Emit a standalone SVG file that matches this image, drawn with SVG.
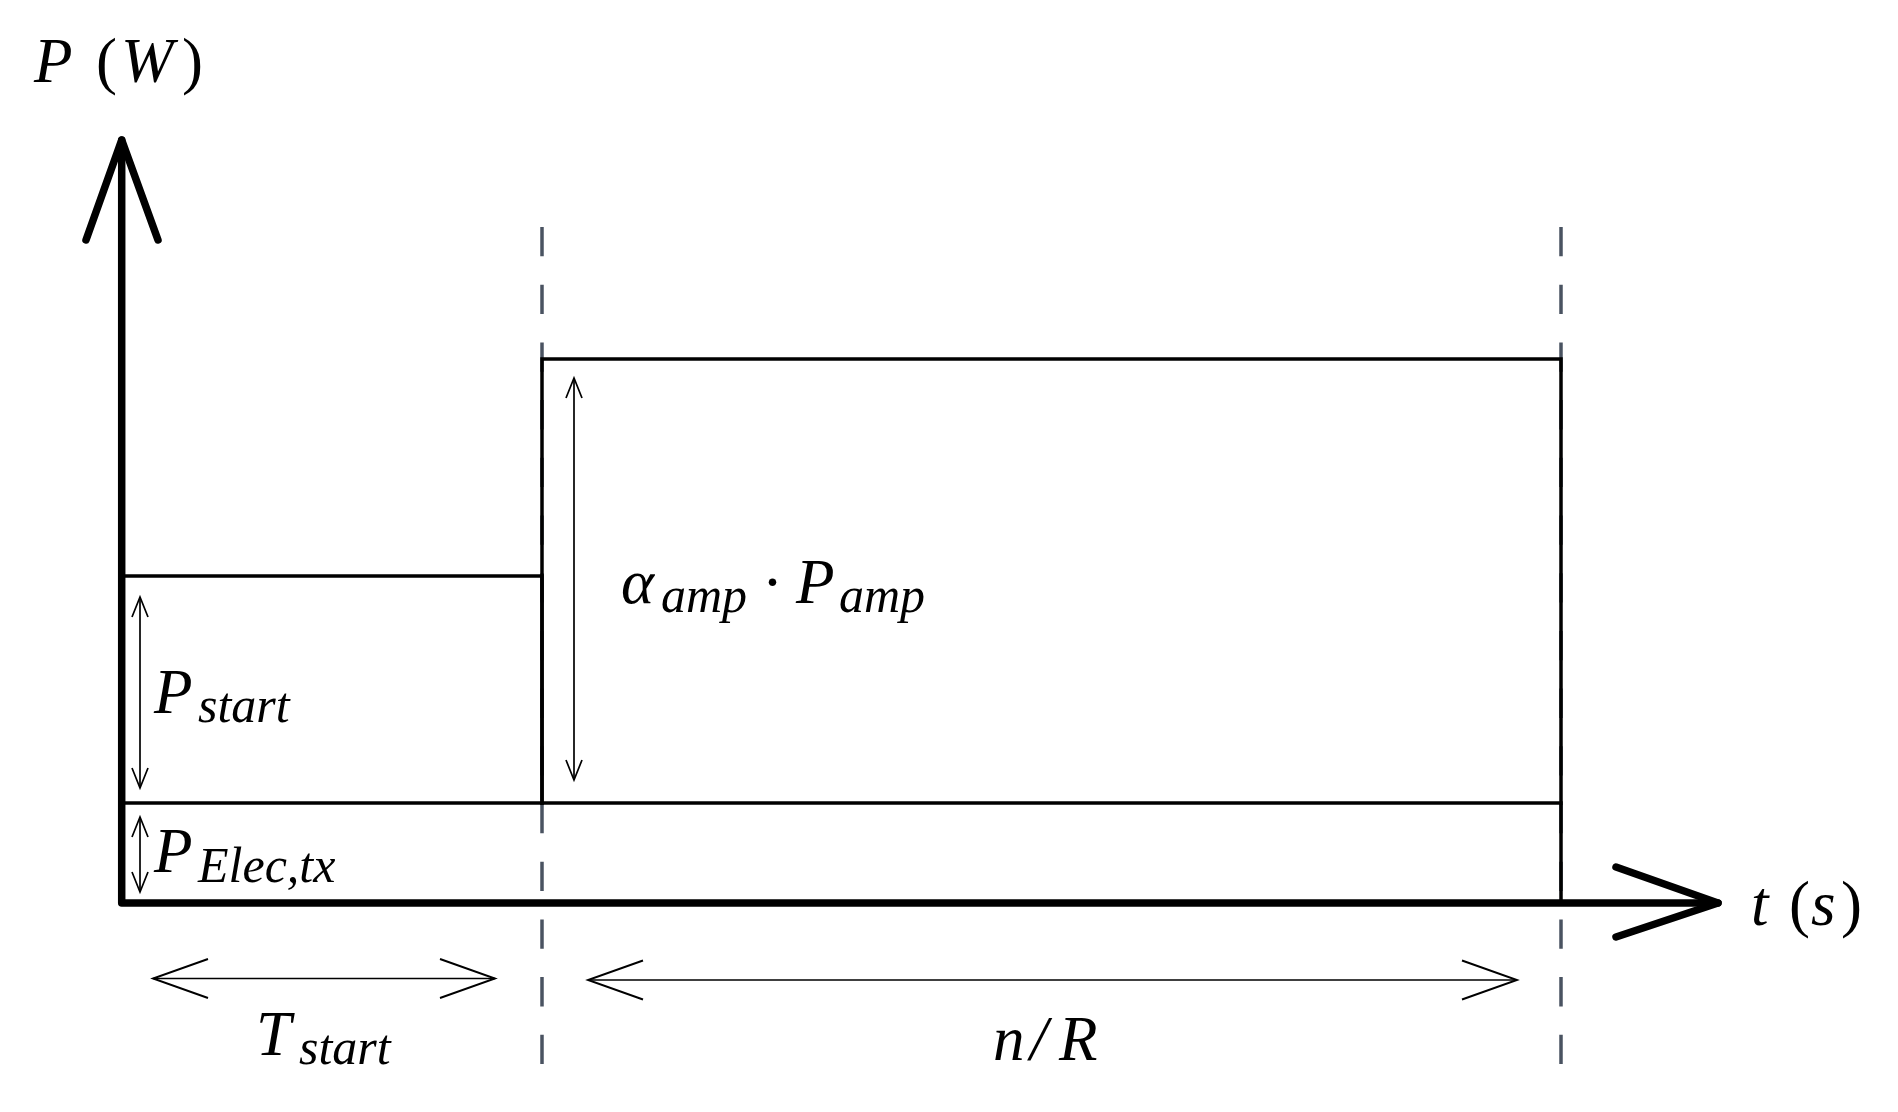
<svg xmlns="http://www.w3.org/2000/svg" width="1898" height="1112" viewBox="0 0 1898 1112">
<style>
.ax{fill:none;stroke:#000;stroke-width:7.5;stroke-linecap:round;stroke-linejoin:round}
.bl{fill:none;stroke:#000;stroke-width:3.5;stroke-linecap:square}
.gd{fill:none;stroke:#4a5361;stroke-width:3.5;stroke-dasharray:29.3 28.4}
.dim{fill:none;stroke:#000;stroke-width:1.7}
.dv{marker-start:url(#vs);marker-end:url(#vs)}
.dh{marker-start:url(#vl);marker-end:url(#vl)}
text{font-family:"Liberation Serif","Times New Roman",serif;font-size:63px;fill:#000}
.i{font-style:italic}
.s{font-style:italic;font-size:50px}
</style>
<defs>
<marker id="vs" markerUnits="userSpaceOnUse" viewBox="-23 -10 25 20" refX="0" refY="0" markerWidth="25" markerHeight="20" orient="auto-start-reverse" overflow="visible">
<path d="M-20,-8 L0,0 L-20,8" fill="none" stroke="#000" stroke-width="1.7"/>
</marker>
<marker id="vl" markerUnits="userSpaceOnUse" viewBox="-58 -22 60 44" refX="0" refY="0" markerWidth="60" markerHeight="44" orient="auto-start-reverse" overflow="visible">
<path d="M-55,-19.5 L0,0 L-55,19.5" fill="none" stroke="#000" stroke-width="1.9"/>
</marker>
</defs>
<rect width="1898" height="1112" fill="#fff"/>
<g id="guides">
<path class="gd" d="M542,227 V1065"/>
<path class="gd" d="M1561,227 V1065"/>
</g>
<g id="block-elec">
<path class="bl" d="M125,803 H1561"/>
</g>
<g id="block-start">
<path class="bl" d="M125,576 H542 V803"/>
</g>
<g id="block-amp">
<path class="bl" d="M542,803 V359 H1561 V903"/>
</g>
<g id="axes">
<path class="ax" d="M121.7,140 V903 H1718"/>
<path class="ax" d="M86,240 L121.7,140 L158,240"/>
<path class="ax" d="M1616,867 L1718,903 L1616,937"/>
</g>
<g id="connectors">
<line class="dim dv" x1="140" y1="597" x2="140" y2="788"/>
<line class="dim dv" x1="140" y1="817" x2="140" y2="892"/>
<line class="dim dv" x1="574" y1="378" x2="574" y2="780"/>
<line class="dim dh" x1="153" y1="978.5" x2="495" y2="978.5"/>
<line class="dim dh" x1="588" y1="980" x2="1517" y2="980"/>
</g>
<g id="label-pw">
<text y="82"><tspan class="i" x="34">P</tspan><tspan x="96">(</tspan><tspan class="i" x="121">W</tspan><tspan x="182">)</tspan></text>
</g>
<g id="label-ts">
<text y="925"><tspan class="i" x="1751">t</tspan><tspan x="1789">(</tspan><tspan class="i" x="1811">s</tspan><tspan x="1841">)</tspan></text>
</g>
<g id="label-amp">
<text y="603"><tspan class="i" x="621">α</tspan><tspan class="s" x="661" y="612">amp</tspan><tspan x="762" y="603">·</tspan><tspan class="i" x="796" y="603">P</tspan><tspan class="s" x="839" y="612">amp</tspan></text>
</g>
<g id="label-pstart">
<text y="713"><tspan class="i" x="154">P</tspan><tspan class="s" x="198" y="722">start</tspan></text>
</g>
<g id="label-pelec">
<text y="872"><tspan class="i" x="154">P</tspan><tspan class="s" x="198" y="882">Elec,tx</tspan></text>
</g>
<g id="label-tstart">
<text y="1055"><tspan class="i" x="256">T</tspan><tspan class="s" x="299" y="1064">start</tspan></text>
</g>
<g id="label-nr">
<text y="1060"><tspan class="i" x="993">n</tspan><tspan class="i" x="1030">/</tspan><tspan class="i" x="1059">R</tspan></text>
</g>
</svg>
